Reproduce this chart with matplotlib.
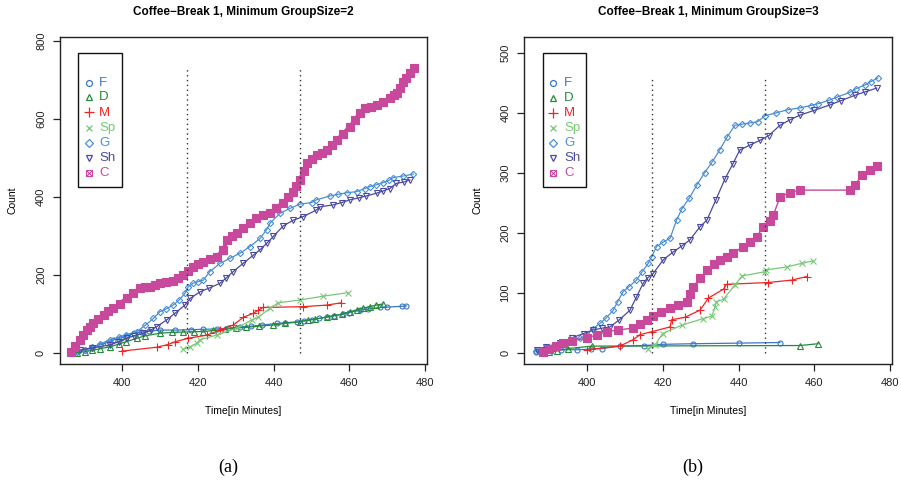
import matplotlib
matplotlib.use("Agg")
import matplotlib.pyplot as plt
from matplotlib.patches import Rectangle
from matplotlib.lines import Line2D

plt.rcParams['font.family'] = ['Liberation Sans', 'DejaVu Sans']

W, H = 901, 486

# ---------------- data: panel (a), Minimum GroupSize=2 ----------------
a_F_t = [386.5, 388, 390, 392, 394, 396, 397.6, 399.5, 401, 403, 405, 407, 410, 414, 418, 421.4,
         425, 428, 431, 434, 437, 440.8, 443, 446.1, 448, 450, 452, 454, 456, 458.4, 460, 462.8,
         465, 468.1, 470, 474, 475.1]
a_F_y = [2, 4, 8, 12, 20, 26, 33, 38, 42, 50, 53, 55, 58, 58, 59, 60,
         61, 63, 66, 68, 71, 75, 77, 79, 82, 85, 88, 92, 95, 99, 103, 109,
         112, 116, 117, 119, 120]

a_D_t = [388, 390, 392, 394, 396.7, 399, 401, 403.8, 406, 409.9, 413, 416, 419, 421.4, 424, 427,
         430, 432.8, 436, 439.9, 443, 446.9, 449, 451, 454, 456, 458, 460.1, 462, 463.5, 465.4,
         467, 468.9]
a_D_y = [0, 3, 6, 10, 15, 22, 28, 37, 43, 50, 52, 53, 54, 54, 57, 60,
         63, 65, 68, 71, 75, 79, 83, 86, 91, 95, 99, 105, 110, 114, 118,
         122, 125]

a_M_t = [399.8, 409.1, 412.1, 413.9, 417.4, 422.3, 425.8, 429.3, 432, 434.6, 435.9, 437.2,
         447.8, 454, 457.9]
a_M_y = [4, 14, 21, 28, 37, 45, 58, 71, 91, 101, 109, 116, 118, 122, 128]

a_Sp_t = [416.1, 417.9, 419.6, 420.5, 424.9, 430.2, 434.2, 435.9, 439, 441.2, 446.9, 453.1, 459.7]
a_Sp_y = [9, 15, 24, 33, 45, 63, 84, 91, 114, 128, 135, 145, 154]

a_G_t = [388, 390, 392, 394, 396.7, 399, 401, 403.8, 406, 408.2, 409.9, 411.5, 413.4, 415, 416.5,
         417.4, 418.7, 420, 421.4, 423.1, 425.8, 428.4, 431.1, 433.7, 436.4, 438.1, 439, 441.6,
         444.3, 446.9, 450, 451.3, 454.9, 457, 459.3, 461.9, 464.1, 465.4, 467, 468.9, 470.5,
         471.6, 474.2, 476.9]
a_G_y = [3, 8, 14, 22, 33, 40, 46, 54, 70, 88, 105, 112, 122, 135, 152,
         169, 178, 182, 186, 208, 229, 242, 255, 272, 293, 315, 332, 357,
         370, 381, 385, 392, 402, 406, 410, 413, 421, 426, 430, 436, 442,
         449, 453, 458]

a_Sh_t = [388.8, 392, 396.7, 399, 401.1, 403, 405.5, 407.5, 409.1, 411.7, 413.9, 416.5, 417.9,
          420.5, 423, 425.8, 427.5, 429.3, 431.9, 434.6, 436.5, 438.1, 439.9, 442.5, 445.2,
          447.8, 451.3, 452.2, 455.7, 458, 460.1, 462.5, 464.5, 467.2, 469, 470.7, 472.4,
          474.5, 476]
a_Sh_y = [7, 12, 20, 28, 37, 43, 50, 58, 67, 84, 101, 122, 139,
          156, 166, 178, 192, 208, 229, 250, 265, 280, 298, 325, 340,
          349, 366, 374, 379, 385, 392, 397, 402, 409, 415, 421, 434,
          438, 443]

a_C_t = [386.5, 387.5, 388.8, 389.7, 390.6, 391.5, 392.3, 393.5, 395, 396.3, 397.6, 399.3, 401.1,
         402.8, 404.6, 406, 407.3, 408.6, 409.9, 411.6, 413.4, 414.8, 416.1, 417.4, 418.7, 420,
         421.4, 423.1, 424.9, 426.7, 427.6, 428.9, 430.2, 432, 433.7, 435.4, 437.2, 439, 440.7,
         442.4, 443.8, 445.1, 446, 446.9, 447.9, 448.8, 450, 451.4, 452.7, 454.1, 455.4, 456.7,
         458.4, 460.1, 461.5, 462.8, 464.1, 465.7, 467.3, 469, 470.7, 471.7, 472.6, 473.4,
         474.2, 475.1, 476, 477.1]
a_C_y = [3, 18, 33, 46, 58, 67, 75, 86, 97, 106, 114, 126, 139,
         152, 165, 168, 169, 174, 178, 182, 185, 192, 199, 210, 220, 227,
         233, 240, 246, 263, 289, 298, 306, 320, 332, 345, 352, 358, 371,
         384, 398, 412, 427, 443, 465, 486, 497, 507, 513, 520, 532, 545,
         562, 579, 597, 615, 627, 631, 635, 644, 653, 660, 666, 680,
         694, 705, 717, 730]

# ---------------- data: panel (b), Minimum GroupSize=3 ----------------
b_F_t = [386.5, 387.5, 390, 393, 397.2, 401, 403.8, 408.6, 415, 420, 428, 440, 450.9]
b_F_y = [2, 2, 4, 5, 5, 6, 7, 11, 12, 14, 15, 16, 17]

b_D_t = [390, 391.9, 395, 401.2, 456.2, 461]
b_D_y = [1, 3, 7, 11, 12, 15]

b_M_t = [399.8, 408.6, 412.2, 413.9, 417, 421.9, 422.3, 425.8, 429.8, 432, 436, 436.8,
         447.8, 454, 458]
b_M_y = [5, 11, 22, 30, 35, 43, 55, 59, 71, 91, 106, 114, 117, 121, 127]

b_Sp_t = [416.1, 417.9, 419.9, 425, 430.7, 432.9, 433.8, 434, 436, 439, 440.9, 447, 447.2,
          452.7, 456.7, 459.7]
b_Sp_y = [7, 13, 32, 46, 57, 61, 76, 85, 89, 113, 128, 135, 138, 143, 149, 153]

b_G_t = [386.5, 388, 390, 392, 394, 396, 398.1, 400, 401.5, 403.4, 405, 406.9, 408, 409.5, 411,
         413, 414.5, 416.1, 417, 418.3, 420, 421.9, 423.6, 425, 427, 429, 431, 433, 435, 437,
         439, 441, 443, 445, 447, 450, 453, 456.2, 459, 461, 464, 466, 469.4, 471, 473.3, 475,
         476.8]
b_G_y = [3, 5, 8, 12, 16, 20, 24, 30, 40, 49, 58, 71, 85, 102, 110,
         121, 135, 149, 160, 177, 184, 191, 221, 240, 258, 280, 300, 318, 338, 360,
         379, 381, 383, 385, 395, 400, 405, 408, 412, 415, 421, 426, 434, 440, 446, 452,
         458]

b_Sh_t = [386.6, 389, 392.8, 396, 399, 401.6, 404, 406, 408.5, 411.3, 413, 414.8, 416, 417.4,
          420.1, 422.7, 425, 427.1, 429.8, 431.6, 434, 436.4, 438.5, 440.3, 443, 445.6, 448,
          450.9, 453.5, 456.2, 460, 464.1, 467, 470.7, 473.5, 476.5]
b_Sh_y = [5, 10, 16, 25, 32, 38, 41, 43, 55, 71, 93, 116, 125, 132,
          155, 168, 178, 188, 210, 221, 255, 290, 315, 338, 346, 354, 362,
          379, 388, 396, 404, 413, 420, 429, 435, 441]

b_C_t = [388.4, 390, 391.8, 393.6, 396, 399.8, 402.5, 405.1, 408, 412.2, 414, 415.7, 417.4,
         419.6, 421.9, 424, 426.3, 427.2, 428, 429.8, 431.6, 433.4, 435.1, 436.9, 438.6, 441.2,
         443, 444.8, 446.5, 448.3, 449.2, 450.9, 453.5, 456.2, 469.4, 470.7, 472.6, 474.7, 476.5]
b_C_y = [2, 6, 11, 16, 20, 24, 30, 35, 38, 41, 48, 55, 61,
         68, 74, 79, 85, 98, 110, 124, 138, 148, 155, 160, 166, 177,
         185, 193, 210, 220, 230, 259, 267, 271, 271, 279, 296, 304, 312]

series_names = ["F", "D", "M", "Sp", "G", "Sh", "C"]
vlines_t = [417, 447]
titles = ["Coffee\u2212Break 1, Minimum GroupSize=2", "Coffee\u2212Break 1, Minimum GroupSize=3"]
captions = ["(a)", "(b)"]
a_yticks = [0, 200, 400, 600, 800]
b_yticks = [0, 100, 200, 300, 400, 500]
xticks = [400, 420, 440, 460, 480]

panel_a = {"F": (a_F_t, a_F_y), "D": (a_D_t, a_D_y), "M": (a_M_t, a_M_y), "Sp": (a_Sp_t, a_Sp_y),
           "G": (a_G_t, a_G_y), "Sh": (a_Sh_t, a_Sh_y), "C": (a_C_t, a_C_y)}
panel_b = {"F": (b_F_t, b_F_y), "D": (b_D_t, b_D_y), "M": (b_M_t, b_M_y), "Sp": (b_Sp_t, b_Sp_y),
           "G": (b_G_t, b_G_y), "Sh": (b_Sh_t, b_Sh_y), "C": (b_C_t, b_C_y)}

colors = {"F": "#3b78c4", "D": "#228b3a", "M": "#f02424", "Sp": "#78c878",
          "G": "#4a8fd6", "Sh": "#4a4aa2", "C": "#c8489c"}
styles = {"F": dict(marker="o", ms=3.6, mfc="none"),
          "D": dict(marker="^", ms=4.0, mfc="none"),
          "M": dict(marker="+", ms=5.5),
          "Sp": dict(marker="x", ms=4.0),
          "G": dict(marker="D", ms=3.2, mfc="none"),
          "Sh": dict(marker="v", ms=4.0, mfc="none"),
          "C": dict(marker="s", ms=5.3)}

fig = plt.figure(figsize=(W / 100, H / 100), dpi=100)


def fx(px):
    return px / W


def fy(py):
    return 1 - py / H


def make_panel(box, data, xlim, ylim, yticks, title, caption, legend_box, leg_marker_x,
               leg_text_x, leg_rows, c_lw):
    x0, y0, x1, y1 = box
    ax = fig.add_axes([fx(x0), fy(y1), fx(x1) - fx(x0), fy(y0) - fy(y1)])
    for name in series_names:
        t, v = data[name]
        lw = c_lw if name == "C" else 0.9
        ax.plot(t, v, color=colors[name], lw=lw, mew=0.8, mec=colors[name], clip_on=False,
                **styles[name])
    ymax = max(max(data[n][1]) for n in series_names)
    ax.vlines(vlines_t, 0, ymax, colors="#333333", linestyles=(0, (1, 2.5)), lw=1.0)
    ax.set_xlim(*xlim)
    ax.set_ylim(*ylim)
    ax.set_xticks(xticks)
    ax.set_yticks(yticks)
    ax.set_yticklabels([str(v) for v in yticks], rotation=90, va="center")
    ax.tick_params(direction="out", length=5, width=0.9, labelsize=8, pad=5, colors="#222222")
    for s in ax.spines.values():
        s.set_linewidth(1.0)
        s.set_color("#222222")
    cx = (x0 + x1) / 2
    fig.text(fx(cx), fy(12), title, ha="center", va="center", fontsize=8.5, fontweight="bold")
    fig.text(fx(cx), fy(411), "Time[in Minutes]", ha="center", va="center", fontsize=7.5)
    fig.text(fx(x0 - 47), fy((y0 + y1) / 2), "Count", ha="center", va="center", rotation=90,
             fontsize=7.5)
    fig.text(fx(cx - 15), fy(467), caption, ha="center", va="center", fontsize=13,
             family=["Liberation Serif", "DejaVu Serif"])
    # legend box
    lx0, ly0, lx1, ly1 = legend_box
    fig.add_artist(Rectangle((fx(lx0), fy(ly1)), fx(lx1) - fx(lx0), fy(ly0) - fy(ly1),
                             transform=fig.transFigure, fill=False, ec="#111111", lw=1.0))
    for name, ry in zip(series_names, leg_rows):
        st = dict(styles[name])
        if name == "C":
            fig.add_artist(Line2D([fx(leg_marker_x)], [fy(ry)], transform=fig.transFigure,
                                  marker="s", ms=5, mfc="none", mec=colors[name], mew=0.8, ls="none"))
            fig.add_artist(Line2D([fx(leg_marker_x)], [fy(ry)], transform=fig.transFigure,
                                  marker="x", ms=4, mec=colors[name], mew=0.8, ls="none"))
        else:
            st["ms"] = st["ms"] * 1.2
            fig.add_artist(Line2D([fx(leg_marker_x)], [fy(ry)], transform=fig.transFigure,
                                  color=colors[name], mec=colors[name], mew=0.9, ls="none", **st))
        fig.text(fx(leg_text_x), fy(ry), name, color=colors[name], ha="left", va="center",
                 fontsize=9.5)
    return ax


rows_a = [82.7, 97.5, 112.5, 127.7, 142.7, 157.7, 172.5]
rows_b = [83.3, 98.2, 113.0, 128.0, 142.8, 157.8, 172.7]

make_panel((60, 37, 427.3, 364), panel_a, (383.5, 480.6), (-29, 809.5), a_yticks, titles[0],
           captions[0], (78.3, 53, 122, 187), 88.5, 99, rows_a, 3.0)
make_panel((524.3, 36.7, 891.7, 364), panel_b, (383.35, 480.45), (-18.8, 526.7), b_yticks,
           titles[1], captions[1], (542.7, 53.3, 586, 186.7), 553.3, 564, rows_b, 1.0)

fig.savefig("out.png", dpi=100)
